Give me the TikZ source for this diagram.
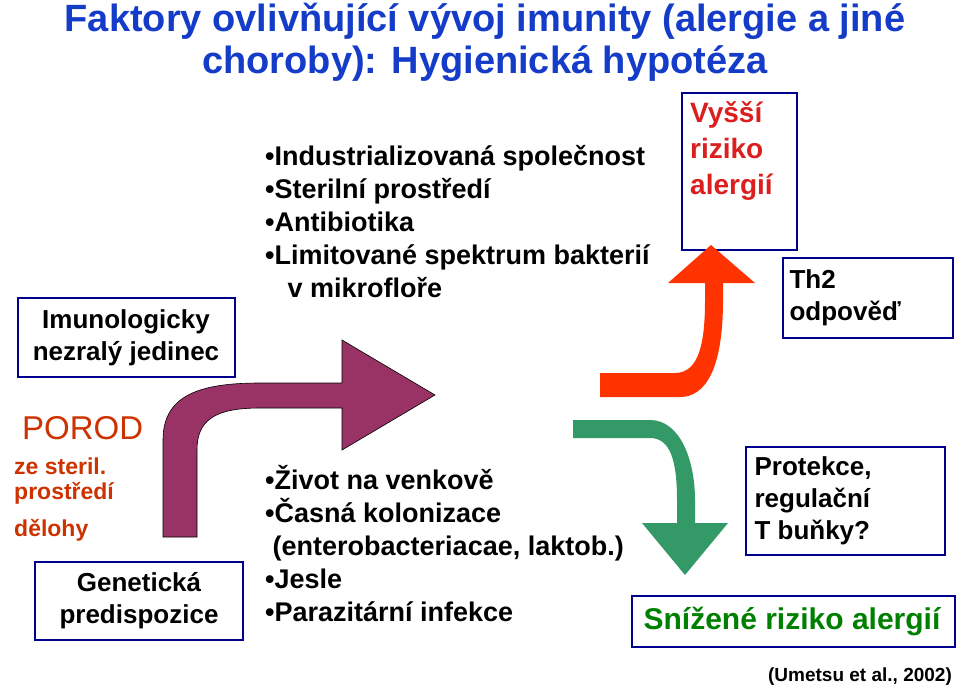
\documentclass[tikz,border=0pt]{standalone}
\usepackage{fontspec}
\setmainfont{Liberation Sans}
\definecolor{ttl}{RGB}{20,60,200}
\definecolor{bx}{RGB}{0,0,140}
\definecolor{rd}{RGB}{204,51,0}
\definecolor{vr}{RGB}{220,30,30}
\definecolor{gr}{RGB}{0,128,0}
\definecolor{purp}{RGB}{153,51,102}
\definecolor{redarr}{RGB}{255,51,0}
\definecolor{grarr}{RGB}{51,153,102}
\begin{document}
\begin{tikzpicture}[x=1pt,y=-1pt,
  bbox/.style={draw=bx,line width=2.5pt,fill=white},
  lst/.style={anchor=west,font=\bfseries\fontsize{27}{33}\selectfont,align=left,inner sep=0pt}]
\useasboundingbox (0,0) rectangle (960,691);
\node[font=\bfseries\fontsize{38}{42}\selectfont,text=ttl,align=center] (title) at (485,42) {Faktory ovlivňující vývoj imunity (alergie a jiné\\choroby): Hygienická hypotéza};
% boxes
\draw[bbox] (18,298) rectangle (235,377);
\node[font=\bfseries\fontsize{26}{32}\selectfont,align=center] (imu) at (126,338) {Imunologicky\\nezralý jedinec};
\draw[bbox] (35,562) rectangle (243,640);
\node[font=\bfseries\fontsize{26}{32}\selectfont,align=center] (gen) at (139,601) {Genetická\\predispozice};
\draw[bbox] (783,258) rectangle (953,338);
\node[font=\bfseries\fontsize{26}{32}\selectfont,align=left,anchor=west] (th2) at (786,298) {Th2\\odpověď};
\draw[bbox] (746,447) rectangle (945,555);
\node[font=\bfseries\fontsize{26}{32}\selectfont,align=left,anchor=west] (pro) at (751,501) {Protekce,\\regulační\\T buňky?};
\draw[bbox] (632,596) rectangle (955,647);
\node[font=\bfseries\fontsize{30}{30}\selectfont,text=gr] (sniz) at (792,621) {Snížené riziko alergií};
% arrows
\draw[fill=purp,draw=black,line width=0.6pt]
 (163,537) -- (163,440) .. controls (163,395) and (200,383) .. (260,383) -- (342,383) -- (342,340) -- (435,395) -- (342,450) -- (342,408) -- (260,408) .. controls (215,408) and (197,420) .. (197,450) -- (197,537) -- cycle;
\draw[bbox] (682,93) rectangle (797,250);
\fill[redarr]
 (600,397) -- (600,373) -- (675,373) .. controls (700,373) and (705,340) .. (705,300) -- (705,283) -- (668,283) -- (711,245) -- (755,283) -- (723,283) -- (723,300) .. controls (723,370) and (705,397) .. (680,397) -- cycle;
\node[font=\bfseries\fontsize{28}{36}\selectfont,text=vr,align=left,anchor=north west,inner sep=0pt] (vys) at (690,101) {Vyšší\\riziko\\alergií};
\fill[grarr]
 (573,420) -- (650,420) .. controls (680,420) and (695,460) .. (695,500) -- (695,523) -- (728,523) -- (685,575) -- (642,523) -- (677,523) -- (677,500) .. controls (677,460) and (670,438) .. (650,438) -- (573,438) -- cycle;
% lists
\node[lst] (l1) at (265,222) {•Industrializovaná společnost\\•Sterilní prostředí\\•Antibiotika\\•Limitované spektrum bakterií\\\ \ \ v mikrofloře};
\node[lst] (l2) at (265,544) {•Život na venkově\\•Časná kolonizace\\\ (enterobacteriacae, laktob.)\\•Jesle\\•Parazitární infekce};
% left texts
\node[anchor=west,text=rd,font=\fontsize{33}{30}\selectfont,inner sep=0pt] (por) at (22,428) {POROD};
\node[anchor=west,text=rd,font=\bfseries\fontsize{23}{24}\selectfont,inner sep=0pt] (ze) at (14,466) {ze steril.};
\node[anchor=west,text=rd,font=\bfseries\fontsize{23}{24}\selectfont,inner sep=0pt] (pr) at (14,493) {prostředí};
\node[anchor=west,text=rd,font=\bfseries\fontsize{23}{24}\selectfont,inner sep=0pt] (de) at (14,530) {dělohy};
\node[font=\bfseries\fontsize{19}{20}\selectfont] (um) at (860,677) {(Umetsu et al., 2002)};
\end{tikzpicture}
\end{document}
